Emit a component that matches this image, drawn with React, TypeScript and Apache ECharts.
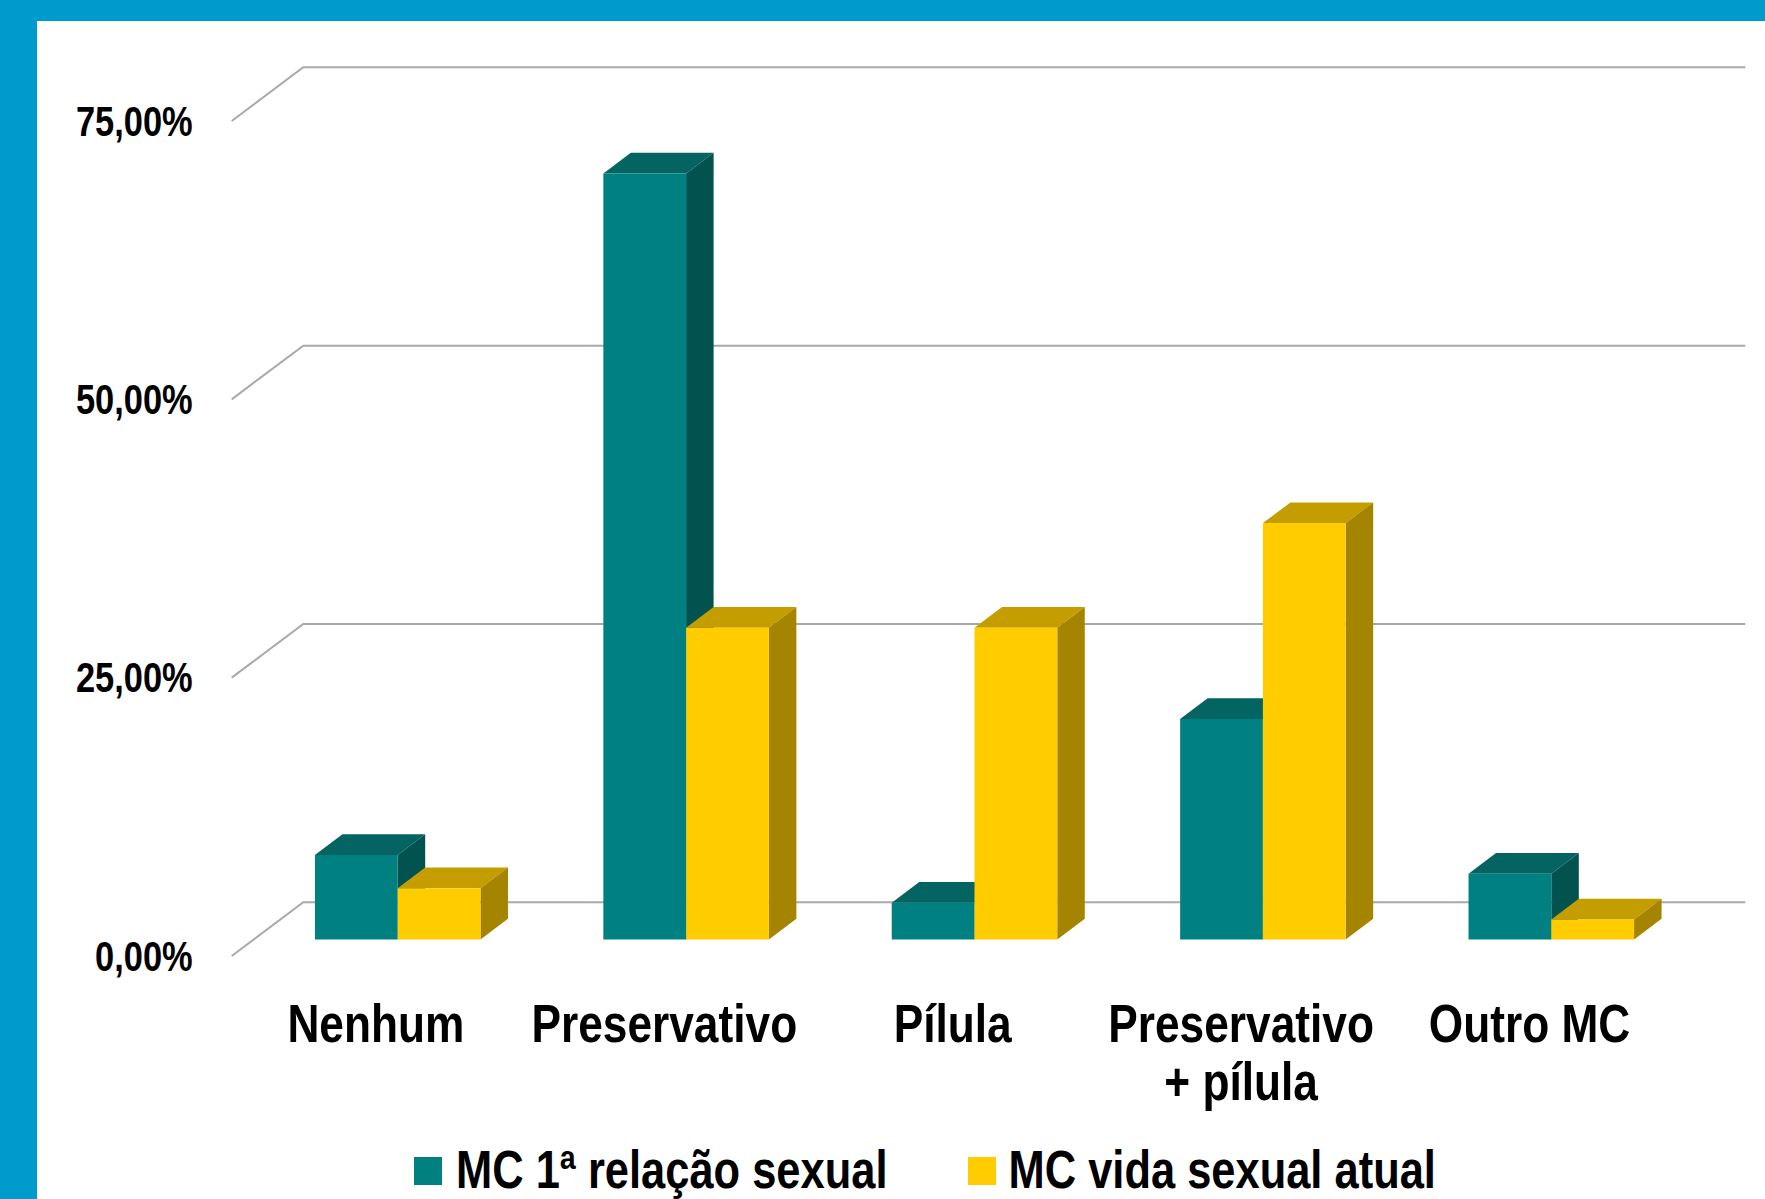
import React, { useEffect, useRef } from "react";
import * as echarts from "echarts";

const categories = ["Nenhum", "Preservativo", "Pílula", "Preservativo\n+ pílula", "Outro MC"];
const seriesNames = ["MC 1ª relação sexual", "MC vida sexual atual"];
const firstRelation = [7.6, 68.8, 3.3, 19.8, 5.9];
const currentLife = [4.6, 28.0, 28.0, 37.4, 1.8];
const ticks = [0, 25, 50, 75];

const FONT = "'Liberation Sans', Arial, sans-serif";
const NARROW = 0.82;
const BACK = { dx: 49.8, dy: -37.2 };
const FRONT = { dx: -21.8, dy: 16.5 };
const DEPTH = { dx: 27.5, dy: -20.7 };
const BAR_RATIO = 0.287;

const palettes = [
  { front: "#008080", top: "#046462", side: "#02524F" },
  { front: "#FFCC00", top: "#C49E00", side: "#A48400" },
];

const GRID = { left: 253.5, top: 104.5, width: 1442, height: 835 };

function fmt(v: number) {
  return v.toFixed(2).replace(".", ",") + "%";
}

function barRenderer(seriesIdx: number) {
  const pal = palettes[seriesIdx];
  return (params: any, api: any) => {
    const cat = api.value(0);
    const v = api.value(1);
    const base = api.coord([cat, 0]);
    const top = api.coord([cat, v]);
    const band = api.size([1, 0])[0];
    const bw = band * BAR_RATIO;
    const left = seriesIdx === 0 ? base[0] - bw : base[0];
    const right = left + bw;
    const ty = top[1];
    const by = base[1];
    const { dx, dy } = DEPTH;
    return {
      type: "group",
      children: [
        {
          type: "polygon",
          shape: { points: [[left, ty], [right, ty], [right + dx, ty + dy], [left + dx, ty + dy]] },
          style: { fill: pal.top },
        },
        {
          type: "polygon",
          shape: { points: [[right, ty], [right + dx, ty + dy], [right + dx, by + dy], [right, by]] },
          style: { fill: pal.side },
        },
        {
          type: "rect",
          shape: { x: left, y: ty, width: bw, height: by - ty },
          style: { fill: pal.front },
        },
      ],
    };
  };
}

function wallRenderer(params: any, api: any) {
  const v = api.value(0);
  const y = api.coord([0, v])[1];
  const cs = params.coordSys;
  const x0 = cs.x;
  const x1 = cs.x + cs.width;
  return {
    type: "polyline",
    shape: {
      points: [
        [x0 + FRONT.dx, y + FRONT.dy],
        [x0 + BACK.dx, y + BACK.dy],
        [x1 + BACK.dx, y + BACK.dy],
      ],
    },
    style: { stroke: "#A9A9A9", lineWidth: 2, fill: "none" },
  };
}

function categoryLabelRenderer(params: any, api: any) {
  const i = api.value(0);
  const p = api.coord([i, 0]);
  return {
    type: "text",
    x: p[0],
    y: p[1] + 38,
    scaleX: NARROW,
    style: {
      text: categories[i],
      fontFamily: FONT,
      fontWeight: "bold",
      fontSize: 54,
      lineHeight: 58,
      fill: "#000",
      align: "center",
      verticalAlign: "top",
    },
  };
}

function valueLabelRenderer(params: any, api: any) {
  const v = api.value(0);
  const y = api.coord([0, v])[1];
  return {
    type: "text",
    x: params.coordSys.x - 39,
    y,
    scaleX: NARROW,
    style: {
      text: fmt(v),
      fontFamily: FONT,
      fontWeight: "bold",
      fontSize: 42,
      fill: "#000",
      align: "right",
      verticalAlign: "middle",
    },
  };
}

const legendLayout = [
  { square: 414, text: 456 },
  { square: 968, text: 1008.5 },
];

export default function App() {
  const ref = useRef<HTMLDivElement>(null);
  useEffect(() => {
    if (!ref.current) return;
    const chart = echarts.init(ref.current, null, { renderer: "svg" });
    const valueAxisBase = { type: "value", min: 0, max: 75, interval: 25 };
    const legendGraphics: any[] = [];
    seriesNames.forEach((name, k) => {
      legendGraphics.push({
        type: "rect",
        shape: { x: legendLayout[k].square, y: 1157, width: 28, height: 28 },
        style: { fill: palettes[k].front },
      });
      legendGraphics.push({
        type: "text",
        x: legendLayout[k].text,
        y: 1169.5,
        scaleX: NARROW,
        style: {
          text: name,
          fontFamily: FONT,
          fontWeight: "bold",
          fontSize: 53,
          fill: "#000",
          align: "left",
          verticalAlign: "middle",
        },
      });
    });
    chart.setOption({
      animation: false,
      backgroundColor: "#ffffff",
      grid: [
        { ...GRID },
        { left: GRID.left + FRONT.dx, top: GRID.top + FRONT.dy, width: GRID.width, height: GRID.height },
      ],
      xAxis: [
        { type: "category", data: categories, gridIndex: 0, show: false },
        { type: "category", data: categories, gridIndex: 1, show: false },
      ],
      yAxis: [
        { ...valueAxisBase, gridIndex: 0, show: false },
        { ...valueAxisBase, gridIndex: 1, show: false },
      ],
      graphic: [
        { type: "rect", left: 0, top: 0, shape: { width: 1765, height: 21 }, style: { fill: "#009BCC" }, z: 100 },
        { type: "rect", left: 0, top: 0, shape: { width: 37, height: 1199 }, style: { fill: "#009BCC" }, z: 100 },
        ...legendGraphics,
      ],
      series: [
        {
          type: "custom",
          name: "wall",
          xAxisIndex: 0,
          yAxisIndex: 0,
          data: ticks.map((t) => [t]),
          encode: { y: 0 },
          renderItem: wallRenderer,
          z: 1,
          silent: true,
        },
        {
          type: "custom",
          name: seriesNames[0],
          xAxisIndex: 0,
          yAxisIndex: 0,
          data: firstRelation.map((v, i) => [i, v]),
          encode: { x: 0, y: 1 },
          itemStyle: { color: palettes[0].front },
          renderItem: barRenderer(0),
          z: 2,
        },
        {
          type: "custom",
          name: seriesNames[1],
          xAxisIndex: 0,
          yAxisIndex: 0,
          data: currentLife.map((v, i) => [i, v]),
          encode: { x: 0, y: 1 },
          itemStyle: { color: palettes[1].front },
          renderItem: barRenderer(1),
          z: 3,
        },
        {
          type: "custom",
          name: "categoryLabels",
          xAxisIndex: 1,
          yAxisIndex: 1,
          data: categories.map((c, i) => [i]),
          encode: { x: 0 },
          renderItem: categoryLabelRenderer,
          silent: true,
          z: 4,
        },
        {
          type: "custom",
          name: "valueLabels",
          xAxisIndex: 1,
          yAxisIndex: 1,
          data: ticks.map((t) => [t]),
          encode: { y: 0 },
          renderItem: valueLabelRenderer,
          silent: true,
          z: 4,
        },
      ],
    });
    return () => chart.dispose();
  }, []);
  return (
    <div
      ref={ref}
      style={{ position: "fixed", left: 0, top: 0, width: 1765, height: 1199, background: "#fff" }}
    />
  );
}
